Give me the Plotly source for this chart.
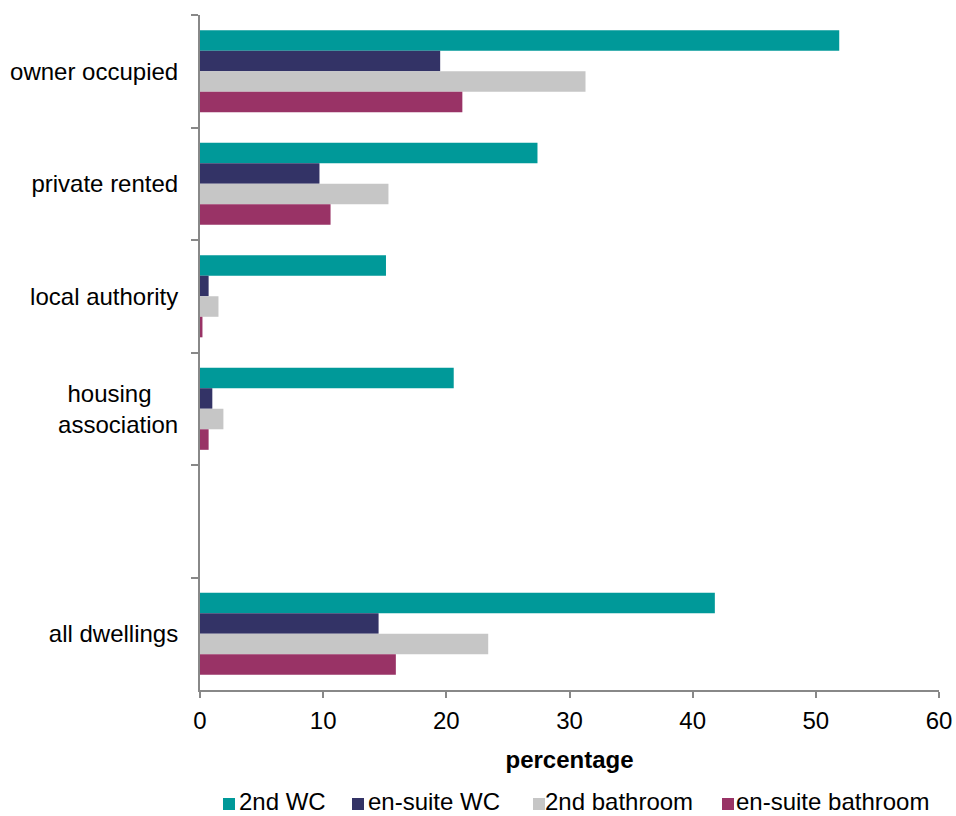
import plotly.graph_objects as go

categories = ["owner occupied", "private rented", "local authority", "housing\u00a0\u00a0\u00a0\u00a0<br>association", "all dwellings"]
axis_order = ["owner occupied", "private rented", "local authority", "housing\u00a0\u00a0\u00a0\u00a0<br>association", " ", "all dwellings"]
second_wc = [51.9, 27.4, 15.1, 20.6, 41.8]
ensuite_wc = [19.5, 9.7, 0.7, 1.0, 14.5]
second_bathroom = [31.3, 15.3, 1.5, 1.9, 23.4]
ensuite_bathroom = [21.3, 10.6, 0.2, 0.7, 15.9]
series_names = ["2nd WC", "en-suite WC", "2nd bathroom", "en-suite bathroom"]
colors = ["#009999", "#333366", "#C6C6C6", "#993366"]
x_ticks = [0, 10, 20, 30, 40, 50, 60]

fig = go.Figure()
for name, vals, col in zip(series_names, [second_wc, ensuite_wc, second_bathroom, ensuite_bathroom], colors):
    fig.add_trace(go.Bar(y=categories, x=vals, name=name, orientation="h", showlegend=False,
                         marker=dict(color=col, line=dict(width=0))))

# manual legend (layout positions in page pixels)
PL, PR, PT, PB = 200, 939, 15, 690
def px_x(p):
    return (p - PL) / (PR - PL)
def px_y(p):
    return (PB - p) / (PB - PT)

legend_marker_left = [223, 352, 533, 722]
legend_text_left = [238, 367, 544, 735]
for name, col, mx, tx in zip(series_names, colors, legend_marker_left, legend_text_left):
    fig.add_shape(type="rect", xref="paper", yref="paper",
                  x0=px_x(mx), x1=px_x(mx + 12), y0=px_y(810), y1=px_y(798),
                  fillcolor=col, line=dict(width=0))
    fig.add_annotation(text=name, xref="paper", yref="paper", x=px_x(tx), y=px_y(802),
                       xanchor="left", yanchor="middle", showarrow=False,
                       font=dict(size=24, color="#000000"), borderpad=0)

font = "Liberation Sans, Arial, sans-serif"
fig.update_layout(
    barmode="group", bargap=0.27, bargroupgap=0,
    width=956, height=816,
    margin=dict(l=PL, r=956 - PR, t=PT, b=816 - PB, autoexpand=False),
    plot_bgcolor="white", paper_bgcolor="white",
    font=dict(family=font, size=24, color="#000000"),
    showlegend=False,
    xaxis=dict(range=[0, 60], tickvals=x_ticks, showgrid=False, zeroline=False,
               showline=True, linecolor="#888888", linewidth=2,
               ticks="outside", ticklen=6, tickcolor="#888888", tickwidth=2,
               title=dict(text="<b>percentage</b>", font=dict(size=24), standoff=18),
               tickfont=dict(size=24), ticklabelstandoff=2),
    yaxis=dict(categoryorder="array", categoryarray=axis_order, autorange=False,
               range=[5.5, -0.5],
               type="category", showgrid=False, zeroline=False,
               showline=True, linecolor="#888888", linewidth=2,
               ticks="outside", ticklen=7, tickcolor="#888888", tickwidth=2,
               tickson="boundaries", tickfont=dict(size=24), ticklabelstandoff=15),
)
fig.write_html("out.html", config={"displayModeBar": False},
               post_script="document.body.style.margin='0px';document.body.style.overflow='hidden';")
